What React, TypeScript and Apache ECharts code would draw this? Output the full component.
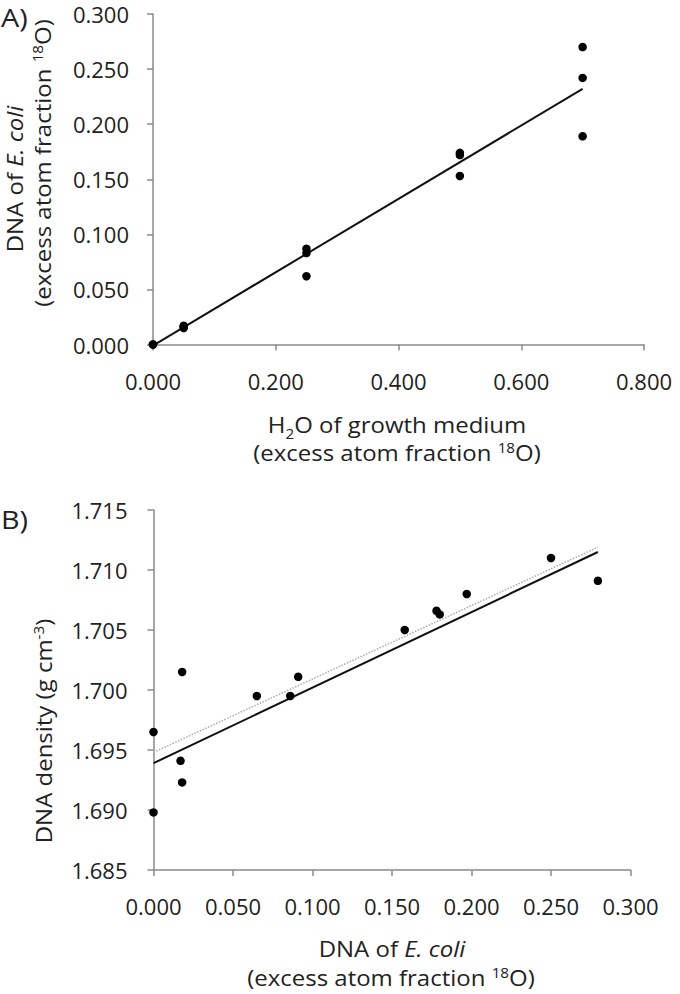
import React, { useEffect, useRef } from "react";
import * as echarts from "echarts";

// Panel A: H2O of growth medium vs DNA of E. coli (excess atom fraction 18O)
const waterA = [0, 0, 0.05, 0.05, 0.05, 0.25, 0.25, 0.25, 0.5, 0.5, 0.5, 0.7, 0.7, 0.7];
const dnaA = [0, 0, 0.015, 0.016, 0.017, 0.087, 0.083, 0.062, 0.174, 0.172, 0.153, 0.27, 0.242, 0.189];
const fitAX = [0, 0.7];
const fitAY = [-0.001, 0.2321];

// Panel B: DNA of E. coli vs DNA density
const dnaB = [0, 0, 0.018, 0.017, 0.018, 0.065, 0.086, 0.091, 0.158, 0.178, 0.18, 0.197, 0.25, 0.2795];
const densityB = [1.6965, 1.6898, 1.7015, 1.6941, 1.6923, 1.6995, 1.6995, 1.7011, 1.705, 1.7066, 1.7063, 1.708, 1.711, 1.7091];
const fitBX = [0, 0.2795];
const fitBY = [1.6939, 1.7115];
const fitB2Y = [1.6948, 1.7119];

const FONT = "'Open Sans', sans-serif";
const TXT = "#222";
const AX = "#8a8a8a";

const axisCommon = {
  axisLine: { show: true, onZero: false, lineStyle: { color: AX, width: 1.5 } },
  axisTick: { show: true, inside: false, length: 6, lineStyle: { color: AX, width: 1.5 } },
  splitLine: { show: false },
};

const tickLabel = (margin: number) => ({
  formatter: (v: number) => v.toFixed(3),
  color: TXT,
  fontSize: 22,
  fontFamily: FONT,
  margin,
});

const richFor = (lh: number) => ({
  a: { fontSize: 22, fontFamily: FONT, color: TXT, lineHeight: lh },
  i: { fontSize: 22, fontFamily: FONT, color: TXT, fontStyle: "italic", lineHeight: lh },
  sup: { fontSize: 14, fontFamily: FONT, color: TXT, verticalAlign: "top", lineHeight: lh },
  sub: { fontSize: 14, fontFamily: FONT, color: TXT, verticalAlign: "bottom", lineHeight: lh },
});

function label(text: string, x: number, y: number, rotate = false, lh = 24) {
  return {
    type: "text",
    x,
    y,
    scaleX: 1.09,
    rotation: rotate ? Math.PI / 2 : 0,
    style: {
      text,
      rich: richFor(lh),
      align: "center",
      verticalAlign: "middle",
      fontFamily: FONT,
      fontSize: 22,
      fill: TXT,
    },
  };
}

export default function App() {
  const ref = useRef<HTMLDivElement>(null);
  useEffect(() => {
    if (!ref.current) return;
    const chart = echarts.init(ref.current, null, { renderer: "svg" });
    chart.setOption({
      animation: false,
      backgroundColor: "#fff",
      grid: [
        { left: 153, top: 14, width: 491, height: 330.5 },
        { left: 153.5, top: 510, width: 477, height: 360 },
      ],
      xAxis: [
        { ...axisCommon, gridIndex: 0, type: "value", min: 0, max: 0.8, interval: 0.2, axisLabel: tickLabel(25) },
        { ...axisCommon, gridIndex: 1, type: "value", min: 0, max: 0.3, interval: 0.05, axisLabel: tickLabel(25) },
      ],
      yAxis: [
        { ...axisCommon, gridIndex: 0, type: "value", min: 0, max: 0.3, interval: 0.05, axisLabel: tickLabel(24) },
        { ...axisCommon, gridIndex: 1, type: "value", min: 1.685, max: 1.715, interval: 0.005, axisLabel: tickLabel(26) },
      ],
      series: [
        {
          type: "line",
          xAxisIndex: 0,
          yAxisIndex: 0,
          data: fitAX.map((x, i) => [x, fitAY[i]]),
          symbol: "none",
          lineStyle: { color: "#111", width: 2 },
          z: 2,
        },
        {
          type: "scatter",
          xAxisIndex: 0,
          yAxisIndex: 0,
          data: waterA.map((x, i) => [x, dnaA[i]]),
          symbolSize: 8.5,
          itemStyle: { color: "#000", opacity: 1 },
          z: 3,
        },
        {
          type: "line",
          xAxisIndex: 1,
          yAxisIndex: 1,
          data: fitBX.map((x, i) => [x, fitB2Y[i]]),
          symbol: "none",
          lineStyle: { color: "#aaa", width: 1.5, type: "dotted" },
          z: 2,
        },
        {
          type: "line",
          xAxisIndex: 1,
          yAxisIndex: 1,
          data: fitBX.map((x, i) => [x, fitBY[i]]),
          symbol: "none",
          lineStyle: { color: "#111", width: 2 },
          z: 2,
        },
        {
          type: "scatter",
          xAxisIndex: 1,
          yAxisIndex: 1,
          data: dnaB.map((x, i) => [x, densityB[i]]),
          symbolSize: 8.5,
          itemStyle: { color: "#000", opacity: 1 },
          z: 3,
        },
      ],
      graphic: [
        {
          type: "text",
          x: 1,
          y: 17,
          scaleX: 1.15,
          style: { text: "A)", fontSize: 25, fontFamily: FONT, fill: TXT, verticalAlign: "middle" },
        },
        {
          type: "text",
          x: 1,
          y: 519,
          scaleX: 1.15,
          style: { text: "B)", fontSize: 25, fontFamily: FONT, fill: TXT, verticalAlign: "middle" },
        },
        label("{a|DNA of }{i|E. coli}", 14, 179, true),
        label("{a|(excess atom fraction }{sup|18}{a|O)}", 42, 163, true),
        label("{a|H}{sub|2}{a|O of growth medium}", 397, 424, false, 32),
        label("{a|(excess atom fraction }{sup|18}{a|O)}", 397, 452),
        label("{a|DNA density (g cm}{sup|-3}{a|)}", 43, 731, true),
        label("{a|DNA of }{i|E. coli}", 392, 948),
        label("{a|(excess atom fraction }{sup|18}{a|O)}", 391, 977),
      ],
    });
    return () => chart.dispose();
  }, []);
  return (
    <div
      ref={ref}
      style={{ position: "absolute", left: 0, top: 0, width: 680, height: 994, background: "#fff" }}
    />
  );
}
